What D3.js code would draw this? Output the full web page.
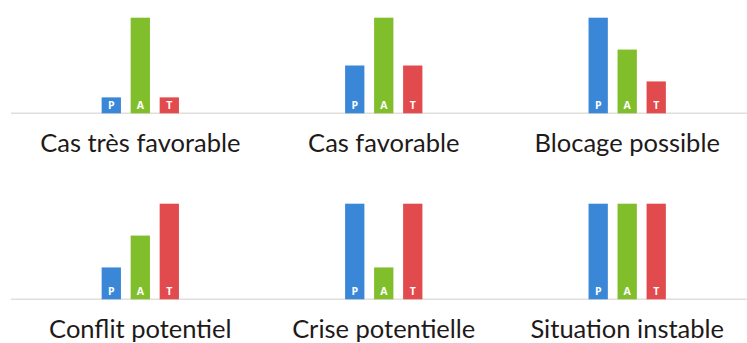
<!DOCTYPE html>
<html>
<head>
<meta charset="utf-8">
<script src="https://cdn.jsdelivr.net/npm/d3@7"></script>
<style>
  html, body { margin: 0; padding: 0; background: #fff; }
  svg { display: block; }
</style>
</head>
<body>
<div id="chart"></div>
<script>
'use strict';

// scenarios, in reading order (3 per row)
var scenarios = ["Cas très favorable", "Cas favorable", "Blocage possible",
                 "Conflit potentiel", "Crise potentielle", "Situation instable"];
var letters = ["P", "A", "T"];
var colors = ["#3a87d8", "#80be2b", "#e24b4d"];

// bar heights on a 0-6 scale, one array per letter
var valuesP = [1, 3, 6, 2, 6, 6];
var valuesA = [6, 6, 4, 4, 2, 6];
var valuesT = [1, 3, 2, 6, 6, 6];
var series = [valuesP, valuesA, valuesT];

var width = 747, height = 343;

var svg = d3.select("#chart").append("svg")
    .attr("width", width)
    .attr("height", height);

var col = d3.scalePoint().domain([0, 1, 2]).range([140.3, 627.2]);
var row = d3.scalePoint().domain([0, 1]).range([113.3, 299.3]); // baseline of each row
var y = d3.scaleLinear().domain([0, 6]).range([0, 95.6]);      // bar height

// baselines, one per row
svg.selectAll("line.base")
    .data(row.domain())
    .join("line")
    .attr("class", "base")
    .attr("x1", 11)
    .attr("x2", width)
    .attr("y1", d => row(d))
    .attr("y2", d => row(d))
    .attr("stroke", "#e2dedb")
    .attr("stroke-width", 1.5);

var panels = svg.selectAll("g.panel")
    .data(scenarios)
    .join("g")
    .attr("class", "panel")
    .attr("transform", (d, i) => `translate(${col(i % 3)},${row(Math.floor(i / 3))})`);

var x = d3.scaleBand()
    .domain(letters)
    .range([-38.65, 38.65])
    .paddingInner(0.335);

panels.each(function(name, i) {
    var g = d3.select(this);
    var bars = letters.map((l, k) => ({letter: l, value: series[k][i], color: colors[k]}));

    g.selectAll("rect")
        .data(bars)
        .join("rect")
        .attr("x", d => x(d.letter))
        .attr("y", d => -y(d.value))
        .attr("width", x.bandwidth())
        .attr("height", d => y(d.value))
        .attr("fill", d => d.color);

    g.selectAll("text.letter")
        .data(bars)
        .join("text")
        .attr("class", "letter")
        .attr("x", d => x(d.letter) + x.bandwidth() / 2)
        .attr("y", -4.5)
        .attr("text-anchor", "middle")
        .attr("fill", "#fff")
        .attr("font-family", "'Open Sans', sans-serif")
        .attr("font-weight", "bold")
        .attr("font-size", 10.5)
        .text(d => d.letter);

    g.append("text")
        .attr("class", "title")
        .attr("x", 0)
        .attr("y", 38.4)
        .attr("text-anchor", "middle")
        .attr("fill", "#1e1a1a")
        .attr("font-family", "Lato, sans-serif")
        .attr("font-size", 25.5)
        .text(name);
});
</script>
</body>
</html>
